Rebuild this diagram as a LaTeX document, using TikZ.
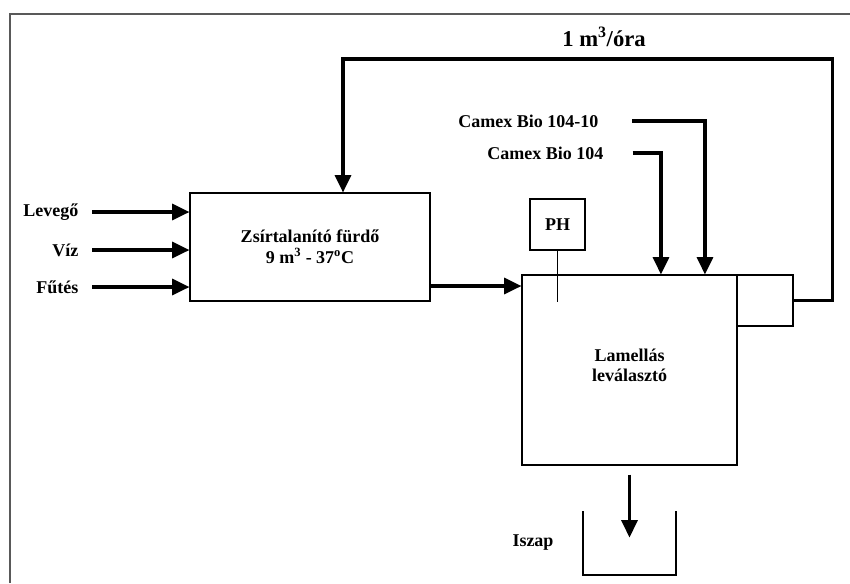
\documentclass[tikz,border=0pt]{standalone}
\usepackage{fontspec}
\setmainfont{Liberation Serif}
\usetikzlibrary{arrows.meta,positioning}

\begin{document}
\begin{tikzpicture}[
  x=0.75pt, y=-0.75pt,
  unit/.style={rectangle, draw, line width=0.8pt, font=\fontsize{13.5}{16}\selectfont\bfseries,
    align=center, inner sep=0pt},
  arr/.style={-{Triangle[length=13pt,width=12pt]}, line width=2.3pt},
  lbl/.style={font=\fontsize{13.5}{16}\selectfont\bfseries},
  frame/.style={draw=black!65, line width=1.1pt}
]
  \useasboundingbox (0,0) rectangle (850,583);
  \draw[frame] (10,583) -- (10,14) -- (850,14);

  % units
  \node[unit, minimum width=180pt, minimum height=81pt] (zsir) at (310,247)
    {Zsírtalanító fürdő\\9 m\textsuperscript{3} - 37\textsuperscript{o}C};
  \node[unit, minimum width=161.25pt, minimum height=142.5pt] (lam) at (629.5,370) {};
  \node[lbl] (lamtxt) at ([yshift=2pt]lam.center)
    {\begin{tabular}{@{}c@{}}Lamellás\\[-1pt]leválasztó\end{tabular}};
  \node[unit, minimum width=42pt, minimum height=38.25pt] (out) at (765,300.5) {};
  \node[unit, minimum width=41.25pt, minimum height=38.25pt] (ph) at (557.5,224.5) {PH};
  \draw[line width=0.8pt] (ph.south) -- ++(0,51);

  % inputs
  \node[lbl, anchor=east] (levego) at (83,212) {Levegő};
  \node[lbl, anchor=east] (viz) at (83,250) {Víz};
  \node[lbl, anchor=east] (futes) at (83,287) {Fűtés};
  \foreach \n in {levego,viz,futes}
    \draw[arr, shorten <=7pt] (\n) -- (\n -| zsir.west);

  \draw[arr] (zsir.east |- 0,286) -- (lam.west |- 0,286);

  % chemicals
  \node[lbl, anchor=east] (camexa) at (603,121) {Camex Bio 104-10};
  \node[lbl, anchor=east] (camexb) at (608,153) {Camex Bio 104};
  \draw[arr] ([xshift=22pt]camexa.east) -| ([xshift=56.6pt]lam.north);
  \draw[arr] ([xshift=18.5pt]camexb.east) -| ([xshift=23.6pt]lam.north);

  % recirculation
  \node[font=\fontsize{17}{19}\selectfont\bfseries] (flow) at (604,37) {1 m\textsuperscript{3}/óra};
  \draw[arr] (out.east) -- ++(39,0) |- ([xshift=24.75pt]zsir.north |- 0,59)
    -- ([xshift=24.75pt]zsir.north);

  % sludge
  \draw[arr] ([yshift=-6.75pt]lam.south) -- ++(0,63);
  \draw[line width=0.8pt] (583,511) coordinate (isa) -- (583,575) -- (676,575) -- (676,511) coordinate (isb);
  \node[lbl] (iszap) at (533,543) {Iszap};
\end{tikzpicture}
\end{document}
